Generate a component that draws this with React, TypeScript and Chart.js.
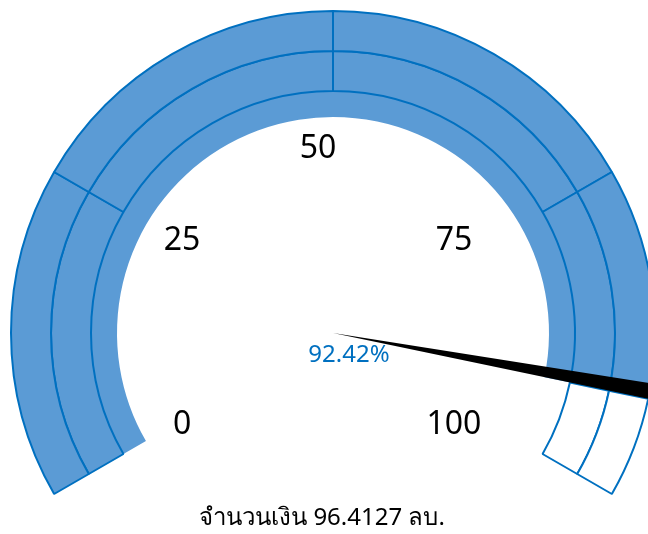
import React, { useEffect, useRef } from "react";
import { Chart, registerables } from "chart.js";

Chart.register(...registerables);

// ---- data ----
const BAND_SIZES: number[] = [25, 25, 25, 25];
const TICK_LABELS: number[] = [0, 25, 50, 75, 100];
const GAUGE_MAX = 100;
const VALUE_PCT = 92.42;
const AMOUNT_TEXT = "จำนวนเงิน 96.4127 ลบ.";

const FILL = "#5B9BD5";
const LINE = "#0070C0";

function splitBands(bands: number[], value: number) {
  const data: number[] = [];
  const colors: string[] = [];
  let acc = 0;
  for (const b of bands) {
    if (acc + b <= value) {
      data.push(b);
      colors.push(FILL);
    } else if (acc < value) {
      data.push(+(value - acc).toFixed(4));
      colors.push(FILL);
      data.push(+(acc + b - value).toFixed(4));
      colors.push("#FFFFFF");
    } else {
      data.push(b);
      colors.push("#FFFFFF");
    }
    acc += b;
  }
  return { data, colors };
}

const FONT = '"Noto Sans", "Open Sans", "DejaVu Sans", sans-serif';

const gaugePlugin = {
  id: "gaugeDecor",
  afterDatasetsDraw(chart: any) {
    const ctx: CanvasRenderingContext2D = chart.ctx;
    const arc0: any = chart.getDatasetMeta(0).data[0];
    const cx = arc0.x;
    const cy = arc0.y;
    const rOuter = arc0.outerRadius;
    const rot = chart.options.rotation as number;
    const circ = chart.options.circumference as number;

    // needle
    const valueArc: any = chart.getDatasetMeta(2).data[0];
    const aEnd = valueArc.endAngle;
    const aTop = aEnd - (2.8 * Math.PI) / 180;
    const L = rOuter + 40;
    ctx.save();
    ctx.fillStyle = "#000000";
    ctx.beginPath();
    ctx.moveTo(cx, cy);
    ctx.lineTo(cx + L * Math.cos(aTop), cy + L * Math.sin(aTop));
    ctx.lineTo(cx + L * Math.cos(aEnd), cy + L * Math.sin(aEnd));
    ctx.closePath();
    ctx.fill();
    ctx.restore();

    // tick labels
    ctx.save();
    ctx.fillStyle = "#000000";
    ctx.font = `32px ${FONT}`;
    ctx.textAlign = "center";
    ctx.textBaseline = "middle";
    for (const t of TICK_LABELS) {
      const deg = -90 + rot + (circ * t) / GAUGE_MAX;
      const a = (deg * Math.PI) / 180;
      const x = cx + 157 * Math.cos(a) - 15;
      const y = cy + 184 * Math.sin(a);
      ctx.fillText(String(t), x, y);
    }
    ctx.restore();

    // percentage
    ctx.save();
    ctx.fillStyle = LINE;
    ctx.font = `24px ${FONT}`;
    ctx.textAlign = "center";
    ctx.textBaseline = "middle";
    ctx.fillText(VALUE_PCT.toFixed(2) + "%", cx + 16, cy + 22);
    ctx.restore();

    // bottom amount text
    ctx.save();
    ctx.fillStyle = "#000000";
    ctx.font = `24px ${FONT}`;
    ctx.textAlign = "center";
    ctx.textBaseline = "middle";
    ctx.fillText(AMOUNT_TEXT, cx - 11, cy + 185);
    ctx.restore();
  },
};

export default function App() {
  const ref = useRef<HTMLCanvasElement | null>(null);
  useEffect(() => {
    if (!ref.current) return;
    const ring = splitBands(BAND_SIZES, VALUE_PCT);
    const chart = new Chart(ref.current, {
      type: "doughnut",
      data: {
        labels: ring.data.map((_, i) => String(i)),
        datasets: [
          {
            data: ring.data,
            backgroundColor: ring.colors,
            borderColor: LINE,
            borderWidth: 2,
            weight: 40,
            clip: false,
          } as any,
          {
            data: ring.data,
            backgroundColor: ring.colors,
            borderColor: LINE,
            borderWidth: 2,
            weight: 40,
            clip: false,
          } as any,
          {
            data: [VALUE_PCT, GAUGE_MAX - VALUE_PCT],
            backgroundColor: [FILL, "rgba(0,0,0,0)"],
            borderWidth: 0,
            weight: 26,
            clip: false,
          } as any,
        ],
      },
      options: {
        responsive: false,
        animation: false,
        rotation: -120,
        circumference: 240,
        cutout: "67.08%",
        radius: 322,
        events: [],
        layout: { padding: { left: 6, right: 0, top: 0, bottom: 29 } },
        plugins: {
          legend: { display: false },
          tooltip: { enabled: false },
          title: { display: false },
        },
      } as any,
      plugins: [gaugePlugin],
    });
    return () => chart.destroy();
  }, []);

  return (
    <div
      style={{
        position: "fixed",
        left: 0,
        top: 0,
        width: 648,
        height: 534,
        overflow: "hidden",
        background: "#FFFFFF",
      }}
    >
      <canvas ref={ref} width={660} height={534} style={{ display: "block" }} />
    </div>
  );
}
